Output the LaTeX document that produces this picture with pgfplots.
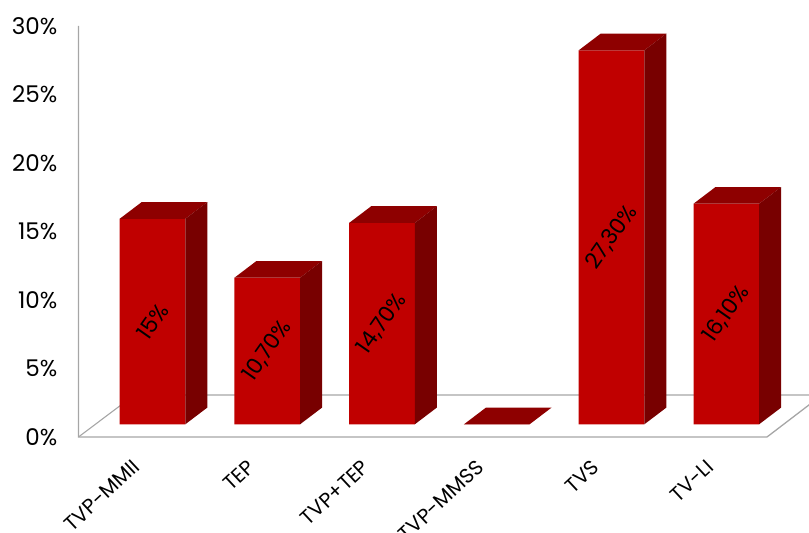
\documentclass[border=0pt]{standalone}
\usepackage{fontspec}
\setmainfont{Poppins}
\usepackage{pgfplots}
\pgfplotsset{compat=1.18}
\definecolor{barfront}{HTML}{C00000}
\definecolor{bartop}{HTML}{8E0000}
\definecolor{barside}{HTML}{780000}
\definecolor{frameline}{HTML}{A6A6A6}

% Half bar width and the depth offsets of the 3D faces, in axis units
\def\hw{0.2858}
\def\dx{0.1917}
\def\dy{1.219}

\tikzset{barlabel/.style={rotate=55,font=\fontsize{22}{22}\selectfont,text=black,inner sep=0pt}}

% Top and side faces plus the centred, rotated value label of one column
\newcommand{\BarFaces}[3]{%
  \pgfmathsetmacro\xl{#1-\hw}%
  \pgfmathsetmacro\xr{#1+\hw}%
  \pgfmathsetmacro\xlb{#1-\hw+\dx}%
  \pgfmathsetmacro\xrb{#1+\hw+\dx}%
  \pgfmathsetmacro\yt{#2+\dy}%
  \pgfmathsetmacro\ym{#2/2}%
  \addplot[fill=bartop,draw=none] coordinates {(\xl,#2) (\xr,#2) (\xrb,\yt) (\xlb,\yt)} -- cycle;
  \ifdim #2pt>0pt
    \addplot[fill=barside,draw=none] coordinates {(\xr,0) (\xrb,\dy) (\xrb,\yt) (\xr,#2)} -- cycle;
    \edef\labelnode{\noexpand\node[barlabel] at (axis cs:#1,\ym) {\unexpanded{#3}};}%
    \labelnode
  \fi
}

\begin{document}
\begin{tikzpicture}[x=1pt,y=1pt]
\path[use as bounding box] (0,0) rectangle (809,533);

% Back frame: percentage scale, floor and category names
\begin{axis}[
  at={(78.5pt,96pt)}, anchor=south west, scale only axis,
  width=730.5pt, height=411pt,
  xmin=-0.6446, xmax=5.7206, ymin=0, ymax=30,
  axis x line=none, axis y line=none,
  clip=false,
]
\addplot[frameline,line width=1.3pt] coordinates {(-0.6446,30) (-0.6446,0) (5.3546,0) (5.8339,3.066)};
\addplot[frameline,line width=1.1pt] coordinates {(-0.6446,0) (-0.1585,3.066) (5.8339,3.066)};
\end{axis}
\begin{axis}[
  at={(78.5pt,96pt)}, anchor=south west, scale only axis,
  width=730.5pt, height=411pt,
  xmin=-0.6446, xmax=5.7206, ymin=0, ymax=30,
  axis line style={draw=none}, tick style={draw=none},
  axis x line*=bottom, axis y line*=left,
  xtick={0,1,2,3,4,5},
  xticklabels={TVP-MMII,TEP,TVP+TEP,TVP-MMSS,TVS,TV-LI},
  ytick={0,5,10,15,20,25,30},
  yticklabels={0\%,5\%,10\%,15\%,20\%,25\%,30\%},
  xticklabel style={font=\fontsize{20.5}{20.5}\selectfont,text=black,rotate=43,anchor=north east,inner sep=0pt,xshift=-30pt,yshift=-1pt},
  yticklabel style={font=\fontsize{23}{23}\selectfont,text=black,anchor=east,inner sep=0pt,xshift=-21pt},
]
\addplot[draw=none] coordinates {(0,0)};
\end{axis}

% Columns: the front faces stand on a floor level raised above the frame's zero line
\begin{axis}[
  at={(78.5pt,96pt)}, anchor=south west, scale only axis,
  width=730.5pt, height=411pt,
  xmin=-0.6446, xmax=5.7206, ymin=-0.927, ymax=29.073,
  axis lines=none, clip=false,
]
\addplot[ybar,bar width=65.6pt,bar shift=0pt,fill=barfront,draw=none]
  coordinates {(0,15) (1,10.7) (2,14.7) (3,0) (4,27.3) (5,16.1)};
\BarFaces{0}{15}{15\%}
\BarFaces{1}{10.7}{10,70\%}
\BarFaces{2}{14.7}{14,70\%}
\BarFaces{3}{0}{}
\BarFaces{4}{27.3}{27,30\%}
\BarFaces{5}{16.1}{16,10\%}
\end{axis}
\end{tikzpicture}
\end{document}
